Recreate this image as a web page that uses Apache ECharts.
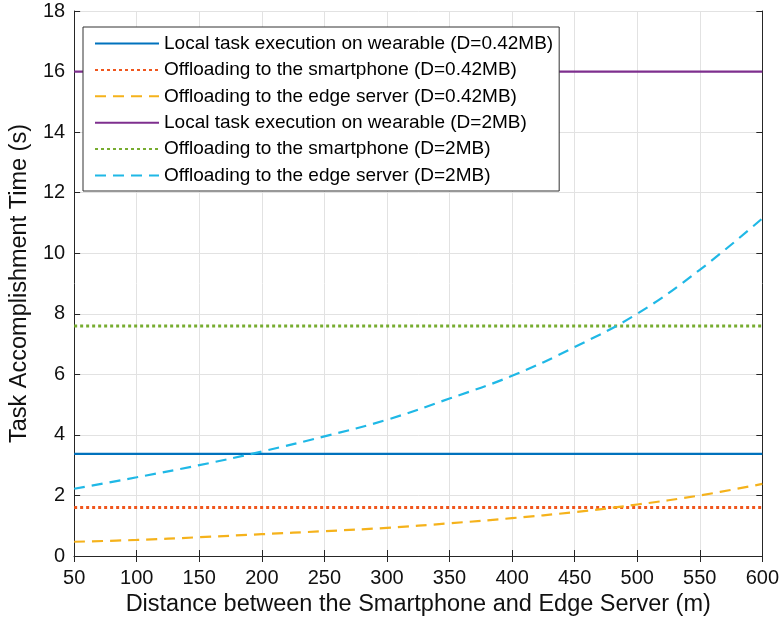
<!DOCTYPE html>
<html><head><meta charset="utf-8">
<script src="https://cdn.jsdelivr.net/npm/echarts@6/dist/echarts.min.js"></script>
<style>html,body{margin:0;padding:0;background:#fff}#c{width:782px;height:624px}</style>
</head><body><div id="c"></div>
<script>
const distances = [50,100,150,200,250,300,350,400,450,500,550,600];
const localSmall = [3.37,3.37,3.37,3.37,3.37,3.37,3.37,3.37,3.37,3.37,3.37,3.37];
const phoneSmall = [1.6,1.6,1.6,1.6,1.6,1.6,1.6,1.6,1.6,1.6,1.6,1.6];
const edgeSmall = [0.47,0.53,0.62,0.72,0.82,0.93,1.08,1.25,1.45,1.7,2.0,2.38];
const localLarge = [16,16,16,16,16,16,16,16,16,16,16,16];
const phoneLarge = [7.6,7.6,7.6,7.6,7.6,7.6,7.6,7.6,7.6,7.6,7.6,7.6];
const edgeLarge = [2.22,2.6,3.0,3.45,3.95,4.5,5.2,5.95,6.9,8.0,9.45,11.15];
const xTicks = [50,100,150,200,250,300,350,400,450,500,550,600];
const yTicks = [0,2,4,6,8,10,12,14,16,18];
const names = [
  'Local task execution on wearable (D=0.42MB)',
  'Offloading to the smartphone (D=0.42MB)',
  'Offloading to the edge server (D=0.42MB)',
  'Local task execution on wearable (D=2MB)',
  'Offloading to the smartphone (D=2MB)',
  'Offloading to the edge server (D=2MB)'
];
const values = [localSmall, phoneSmall, edgeSmall, localLarge, phoneLarge, edgeLarge];
const colors = ['#0072BD','#F0561D','#F5B21B','#7E2F8E','#77AC30','#1FB8E6'];
const types = ['solid','dotted','dashed','solid','dotted','dashed'];
const font = 'Liberation Sans, Arial, Helvetica, sans-serif';

const chart = echarts.init(document.getElementById('c'), null, {renderer:'canvas'});
const series = values.map((v,i)=>({
  name: names[i], type:'line', symbol:'none', smooth: i===2||i===5 ? 0.4 : false,
  data: distances.map((d,j)=>[d, v[j]]),
  lineStyle:{color:colors[i], width: types[i]==='dotted'?3:2.2,
    type: types[i]==='dashed'?[11,7]:(types[i]==='dotted'?[3,3]:'solid')},
  itemStyle:{color:colors[i]},
  z: 3
}));
const axisCommon = {
  axisLine:{show:true,lineStyle:{color:'#262626',width:1}},
  axisTick:{show:true,inside:true,length:6,lineStyle:{color:'#262626'}},
};
chart.setOption({
  animation:false,
  backgroundColor:'#fff',
  color: colors,
  grid:{left:71,right:19,top:11,bottom:68,containLabel:false},
  legend:{
    orient:'vertical', left:83, top:27, padding:[7,6,6,11],
    icon:'inherit',
    backgroundColor:'#fff', borderColor:'#333', borderWidth:1,
    itemWidth:64, itemHeight:19, itemGap:7.4,
    itemStyle:{opacity:0},
    textStyle:{fontFamily:font,fontSize:19,lineHeight:19,color:'#000'},
    data: names
  },
  xAxis:[{
    type:'value', min:50, max:600, interval:50, position:'bottom',
    ...axisCommon,
    axisLabel:{fontFamily:font,fontSize:20,color:'#111',margin:12},
    splitLine:{show:true,lineStyle:{color:'#e2e2e2',width:1}},
    name:'Distance between the Smartphone and Edge Server (m)',
    nameLocation:'middle', nameGap:37,
    nameTextStyle:{fontFamily:font,fontSize:23.5,color:'#111'}
  },{
    type:'value', min:50, max:600, interval:50, position:'top',
    ...axisCommon, axisLabel:{show:false}, splitLine:{show:false}
  }],
  yAxis:[{
    type:'value', min:0, max:18, interval:2, position:'left',
    ...axisCommon,
    axisLabel:{fontFamily:font,fontSize:20,color:'#111',margin:9},
    splitLine:{show:true,lineStyle:{color:'#e2e2e2',width:1}},
    name:'Task Accomplishment Time (s)',
    nameLocation:'middle', nameGap:39,
    nameTextStyle:{fontFamily:font,fontSize:23.5,color:'#111'}
  },{
    type:'value', min:0, max:18, interval:2, position:'right',
    ...axisCommon, axisLabel:{show:false}, splitLine:{show:false}
  }],
  series: series
});
</script></body></html>
